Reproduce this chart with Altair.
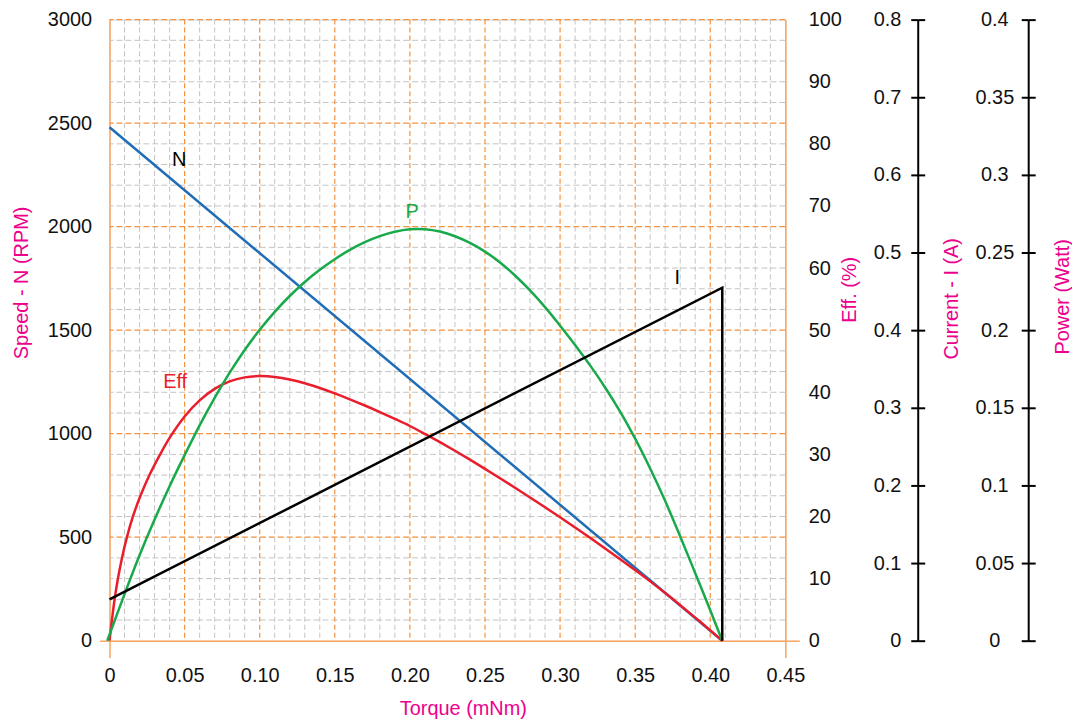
import altair as alt
import pandas as pd

# ---------------- data ----------------
# Speed N (RPM) vs torque (mNm)
speed_t = [0.0, 0.408]
speed_v = [2480, 0]

# Current I (A)
cur_t = [0.0, 0.408, 0.408]
cur_v = [0.0531, 0.4547, 0.0]

# Efficiency (%)
eff_t = [0.0, 0.0016, 0.0034, 0.0056, 0.0083, 0.0116, 0.0156, 0.0206, 0.0266, 0.0338,
         0.04, 0.05, 0.06, 0.07, 0.08, 0.09, 0.10, 0.11, 0.12, 0.13, 0.14, 0.15,
         0.16, 0.17, 0.18, 0.19, 0.20, 0.21, 0.22, 0.23, 0.24, 0.25, 0.26, 0.27,
         0.28, 0.29, 0.30, 0.31, 0.32, 0.33, 0.34, 0.35, 0.36, 0.37, 0.38, 0.39,
         0.40, 0.408]
eff_v = [0.0, 3.33, 6.67, 10.0, 13.33, 16.67, 20.0, 23.33, 26.67, 30.05,
         32.65, 36.1, 38.7, 40.55, 41.75, 42.4, 42.6, 42.47, 42.07, 41.45, 40.68, 39.81,
         38.87, 37.87, 36.82, 35.72, 34.57, 33.29, 31.96, 30.58, 29.15, 27.67, 26.16, 24.62,
         23.06, 21.48, 19.87, 18.23, 16.56, 14.86, 13.13, 11.37, 9.55, 7.67, 5.72, 3.72,
         1.67, 0.0]

# Power (W)
pow_t = [-0.0015, 0.01, 0.02, 0.03, 0.04, 0.05, 0.06, 0.07, 0.08, 0.09, 0.10,
         0.11, 0.12, 0.13, 0.14, 0.15, 0.16, 0.17, 0.18, 0.19, 0.20, 0.21, 0.22,
         0.23, 0.24, 0.25, 0.26, 0.27, 0.28, 0.29, 0.30, 0.31, 0.32, 0.33, 0.34,
         0.35, 0.36, 0.37, 0.38, 0.39, 0.40, 0.408]
pow_v = [0.0, 0.0300, 0.0550, 0.0780, 0.0995, 0.1195, 0.1387, 0.1564, 0.1726, 0.1872, 0.2002,
         0.2118, 0.2220, 0.2310, 0.2389, 0.2457, 0.2517, 0.2567, 0.2606, 0.2634, 0.2650, 0.2650, 0.2635,
         0.2605, 0.2562, 0.2506, 0.2436, 0.2352, 0.2256, 0.2148, 0.2029, 0.1905, 0.1773, 0.1631, 0.1475,
         0.1301, 0.1109, 0.0899, 0.0671, 0.0435, 0.0196, 0.0]

# curve labels: (text, torque, value on its own axis)
lab_N = ("N", 0.0464, 2322)
lab_P = ("P", 0.2015, 0.2763)
lab_E = ("Eff", 0.0437, 41.7)
lab_I = ("I", 0.378, 0.4667)

# axis tick values
x_ticks = [0, 0.05, 0.10, 0.15, 0.20, 0.25, 0.30, 0.35, 0.40, 0.45]
speed_ticks = [0, 500, 1000, 1500, 2000, 2500, 3000]
eff_ticks = [0, 10, 20, 30, 40, 50, 60, 70, 80, 90, 100]
cur_ticks = [0, 0.1, 0.2, 0.3, 0.4, 0.5, 0.6, 0.7, 0.8]
pow_ticks = [0, 0.05, 0.1, 0.15, 0.2, 0.25, 0.3, 0.35, 0.4]

# grid positions
x_major = [0.05, 0.10, 0.15, 0.20, 0.25, 0.30, 0.35, 0.40]
x_minor = [round(i * 0.01, 2) for i in range(1, 45) if i % 5 != 0]
y_major = [500, 1000, 1500, 2000, 2500, 3000]
y_minor = [i * 100 for i in range(1, 30) if i % 5 != 0]

# ---------------- styling ----------------
FONT = "Liberation Sans"
MAGENTA = "#ec008c"
ORANGE_AX = "#f5a462"
ORANGE_GRID = "#f39240"
GRAY_GRID = "#c4c4c4"
BLUE = "#1f6db6"
GREEN = "#18a94b"
RED = "#ea1d2c"
W, H = 679, 624

xs = alt.Scale(domain=[0, 0.45], nice=False, zero=False)
lbl0 = "datum.value == 0 ? '0' : format(datum.value, '.2f')"
lbl1 = "datum.value == 0 ? '0' : format(datum.value, '.2~f')"

def yscale(lo, hi):
    return alt.Scale(domain=[lo, hi], nice=False, zero=False)

# ---------------- grid layers ----------------
vminor = alt.Chart(pd.DataFrame({"v": x_minor})).mark_rule(
    color=GRAY_GRID, strokeWidth=1, strokeDash=[5, 3]
).encode(x=alt.X("v:Q", scale=xs, axis=None))
hminor = alt.Chart(pd.DataFrame({"v": y_minor})).mark_rule(
    color=GRAY_GRID, strokeWidth=1, strokeDash=[6, 3]
).encode(y=alt.Y("v:Q", scale=yscale(0, 3000), axis=None))
vmajor = alt.Chart(pd.DataFrame({"v": x_major})).mark_rule(
    color=ORANGE_GRID, strokeWidth=1.2, strokeDash=[5, 3]
).encode(x=alt.X("v:Q", scale=xs, axis=None))
hmajor = alt.Chart(pd.DataFrame({"v": y_major})).mark_rule(
    color=ORANGE_GRID, strokeWidth=1.2, strokeDash=[6, 3]
).encode(y=alt.Y("v:Q", scale=yscale(0, 3000), axis=None))

# ---------------- data layers ----------------
df_speed = pd.DataFrame({"t": speed_t, "v": speed_v})
df_cur = pd.DataFrame({"t": cur_t, "v": cur_v, "i": list(range(len(cur_t)))})
df_eff = pd.DataFrame({"t": eff_t, "v": eff_v})
df_pow = pd.DataFrame({"t": pow_t, "v": pow_v})

speed = alt.Chart(df_speed).mark_line(color=BLUE, strokeWidth=2.5).encode(
    x=alt.X("t:Q", scale=xs, title="Torque (mNm)", axis=alt.Axis(
        values=x_ticks, labelExpr=lbl0, grid=False, domainColor=ORANGE_AX,
        domainWidth=1.5, tickSize=17, tickWidth=1.5, labelFlush=False,
        tickColor=alt.condition("datum.value == 0 || datum.value > 0.449",
                                alt.value(ORANGE_AX), alt.value("transparent")),
        labelPadding=8, labelFont=FONT, labelFontSize=20, labelColor="#111111",
        titleFont=FONT, titleFontSize=20, titleFontWeight="normal",
        titleColor=MAGENTA, titleX=355, titleY=68, titleBaseline="middle",
        titleAlign="center")),
    y=alt.Y("v:Q", scale=yscale(0, 3000), title="Speed - N (RPM)", axis=alt.Axis(
        orient="left", values=speed_ticks, format="d", grid=False,
        domainColor=ORANGE_AX, domainWidth=1.5, tickSize=10, tickWidth=1.5,
        labelFlush=False,
        tickColor=alt.condition("datum.value == 0", alt.value(ORANGE_AX),
                                alt.value("transparent")),
        labelPadding=8, labelFont=FONT, labelFontSize=20, labelColor="#111111",
        titleFont=FONT, titleFontSize=20, titleFontWeight="normal",
        titleColor=MAGENTA, titleAngle=270, titleX=-88, titleY=264,
        titleBaseline="middle", titleAlign="center")),
)

eff = alt.Chart(df_eff).mark_line(color=RED, strokeWidth=2.5,
                                  interpolate="catmull-rom").encode(
    x=alt.X("t:Q", scale=xs, axis=None),
    y=alt.Y("v:Q", scale=yscale(0, 100), title="Eff. (%)", axis=alt.Axis(
        orient="right", values=eff_ticks, grid=False, domainColor=ORANGE_AX,
        domainWidth=1.5, tickSize=14, tickWidth=1.5, labelFlush=False,
        tickColor=alt.condition("datum.value == 0", alt.value(ORANGE_AX),
                                alt.value("transparent")),
        labelPadding=9, labelFont=FONT, labelFontSize=20, labelColor="#111111",
        titleFont=FONT, titleFontSize=20, titleFontWeight="normal",
        titleColor=MAGENTA, titleAngle=270, titleX=64, titleY=271,
        titleBaseline="middle", titleAlign="center")),
)

pw = alt.Chart(df_pow).mark_line(color=GREEN, strokeWidth=2.5,
                                 interpolate="catmull-rom").encode(
    x=alt.X("t:Q", scale=xs, axis=None),
    y=alt.Y("v:Q", scale=yscale(0, 0.4), title="Power (Watt)", axis=alt.Axis(
        orient="left", offset=-923, values=pow_ticks, labelExpr=lbl1, grid=False,
        domainColor="#000000", domainWidth=2, tickSize=7, tickWidth=2,
        tickColor="#000000", labelPadding=27, labelAlign="center", labelFlush=False,
        labelFont=FONT, labelFontSize=20, labelColor="#111111",
        titleFont=FONT, titleFontSize=20, titleFontWeight="normal",
        titleColor=MAGENTA, titleAngle=270, titleX=34, titleY=278,
        titleBaseline="middle", titleAlign="center")),
)
pw_ticks = alt.Chart(df_pow).mark_line(strokeOpacity=0).encode(
    x=alt.X("t:Q", scale=xs, axis=None),
    y=alt.Y("v:Q", scale=yscale(0, 0.4), title=None, axis=alt.Axis(
        orient="right", offset=244, values=pow_ticks, labels=False, grid=False,
        domain=False, tickSize=7, tickWidth=2, tickColor="#000000")),
)

cur = alt.Chart(df_cur).mark_line(color="#000000", strokeWidth=2.5).encode(
    x=alt.X("t:Q", scale=xs, axis=None),
    y=alt.Y("v:Q", scale=yscale(0, 0.8), title="Current - I (A)", axis=alt.Axis(
        orient="left", offset=-812, values=cur_ticks, labelExpr=lbl1, grid=False,
        domainColor="#000000", domainWidth=2, tickSize=7, tickWidth=2,
        tickColor="#000000", labelPadding=10, labelFlush=False,
        labelFont=FONT, labelFontSize=20, labelColor="#111111",
        titleFont=FONT, titleFontSize=20, titleFontWeight="normal",
        titleColor=MAGENTA, titleAngle=270, titleX=34, titleY=280,
        titleBaseline="middle", titleAlign="center")),
    order="i:Q",
)
cur_ticks_r = alt.Chart(df_cur).mark_line(strokeOpacity=0).encode(
    x=alt.X("t:Q", scale=xs, axis=None),
    y=alt.Y("v:Q", scale=yscale(0, 0.8), title=None, axis=alt.Axis(
        orient="right", offset=133, values=cur_ticks, labels=False, grid=False,
        domain=False, tickSize=7, tickWidth=2, tickColor="#000000")),
    order="i:Q",
)

# ---------------- curve labels ----------------
def label(lab, lo, hi, color):
    d = pd.DataFrame({"txt": [lab[0]], "t": [lab[1]], "v": [lab[2]]})
    return alt.Chart(d).mark_text(font=FONT, fontSize=20, color=color,
                                  align="center", baseline="middle").encode(
        x=alt.X("t:Q", scale=xs, axis=None),
        y=alt.Y("v:Q", scale=yscale(lo, hi), axis=None),
        text="txt:N",
    )

chart = alt.layer(
    vminor, hminor, vmajor, hmajor,
    speed, eff, pw, pw_ticks, cur, cur_ticks_r,
    label(lab_N, 0, 3000, "#000000"),
    label(lab_P, 0, 0.4, GREEN),
    label(lab_E, 0, 100, RED),
    label(lab_I, 0, 0.8, "#000000"),
).resolve_scale(y="independent").resolve_axis(
    x="independent", y="independent"
).properties(
    width=W, height=H,
    padding={"left": 4, "top": 0, "right": 0, "bottom": 0},
).configure_view(stroke=None).configure(background="white")

chart.save("out.html", embed_options={"renderer": "svg", "actions": False})
